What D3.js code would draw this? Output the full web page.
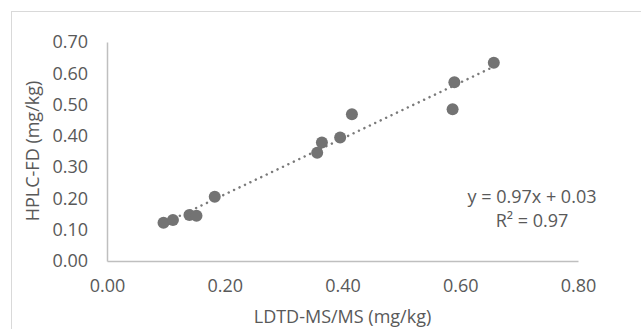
<!DOCTYPE html>
<html>
<head>
<meta charset="utf-8">
<script src="https://cdn.jsdelivr.net/npm/d3@7"></script>
<style>
  body { margin: 0; background: #fff; }
  text { font-family: "Open Sans", sans-serif; fill: #595959; }
</style>
</head>
<body>
<svg></svg>
<script>
// values
let ldtd = [0.096, 0.112, 0.140, 0.152, 0.183, 0.357, 0.365, 0.396, 0.416, 0.587, 0.590, 0.657]
let hplc = [0.122, 0.131, 0.147, 0.145, 0.205, 0.346, 0.379, 0.395, 0.469, 0.485, 0.571, 0.634]
let xTicks = [0, 0.2, 0.4, 0.6, 0.8]
let yTicks = [0, 0.1, 0.2, 0.3, 0.4, 0.5, 0.6, 0.7]
let equation = ['y = 0.97x + 0.03', 'R² = 0.97']

let width = 641
let height = 329
let fontSize = '18px'

let points = ldtd.map((x, i) => ({ x: x, y: hplc[i] }))

let xScale = d3.scaleLinear().domain([0, 0.8]).range([107, 578])
let yScale = d3.scaleLinear().domain([0, 0.7]).range([261, 42])

let svg = d3.select('svg')
    .attr('width', width)
    .attr('height', height)

// chart border
svg.append('rect')
    .attr('x', 11.5)
    .attr('y', 11.5)
    .attr('width', width)
    .attr('height', height)
    .attr('fill', 'none')
    .attr('stroke', '#d9d9d9')

let xAxis = d3.axisBottom(xScale)
              .tickValues(xTicks)
              .tickFormat(d3.format('.2f'))
              .tickSize(0)
              .tickPadding(18)

let yAxis = d3.axisLeft(yScale)
              .tickValues(yTicks)
              .tickFormat(d3.format('.2f'))
              .tickSize(0)
              .tickPadding(19)

svg.append('g')
    .attr('transform', `translate(0, ${yScale(0)})`)
    .call(xAxis)

svg.append('g')
    .attr('transform', `translate(${xScale(0)}, 0)`)
    .call(yAxis)

svg.selectAll('.domain').attr('stroke', '#bfbfbf').attr('stroke-width', 1.5)
svg.selectAll('.tick text')
    .style('font-size', fontSize)
    .style('font-family', '"Open Sans", sans-serif')
    .attr('fill', '#595959')

// linear trendline (least squares over the points)
let mx = d3.mean(points, d => d.x)
let my = d3.mean(points, d => d.y)
let slope = d3.sum(points, d => (d.x - mx) * (d.y - my)) / d3.sum(points, d => (d.x - mx) ** 2)
let icpt = my - slope * mx
let xr = d3.extent(points, d => d.x)

svg.append('line')
    .attr('x1', xScale(xr[0]))
    .attr('y1', yScale(icpt + slope * xr[0]))
    .attr('x2', xScale(xr[1]))
    .attr('y2', yScale(icpt + slope * xr[1]))
    .attr('stroke', '#7a7a7a')
    .attr('stroke-width', 2.5)
    .attr('stroke-linecap', 'round')
    .attr('stroke-dasharray', '0.01 6')

svg.selectAll('circle')
  .data(points)
  .enter()
  .append('circle')
    .attr('cx', d => xScale(d.x))
    .attr('cy', d => yScale(d.y))
    .attr('r', 6)
    .attr('fill', '#737373')

// equation label
svg.append('text')
    .attr('x', 532)
    .attr('y', 197)
    .attr('dy', '0.35em')
    .style('text-anchor', 'middle')
    .style('font-size', fontSize)
    .text(equation[0])

svg.append('text')
    .attr('x', 532)
    .attr('y', 221)
    .attr('dy', '0.35em')
    .style('text-anchor', 'middle')
    .style('font-size', fontSize)
    .text(equation[1])

// x-axis label
svg.append('text')
    .attr('x', (xScale(0) + xScale(0.8)) / 2)
    .attr('y', 317)
    .attr('dy', '0.35em')
    .style('text-anchor', 'middle')
    .style('font-size', fontSize)
    .text('LDTD-MS/MS (mg/kg)')

// y-axis label
svg.append('text')
    .attr('transform', 'rotate(-90)')
    .attr('x', -151)
    .attr('y', 33)
    .attr('dy', '0.35em')
    .style('text-anchor', 'middle')
    .style('font-size', fontSize)
    .text('HPLC-FD (mg/kg)')
</script>
</body>
</html>
